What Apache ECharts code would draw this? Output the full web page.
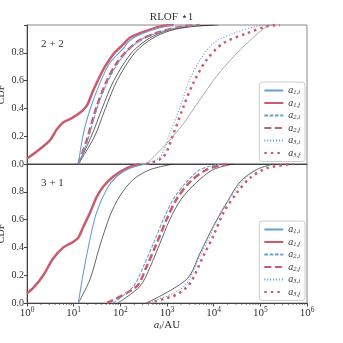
<!doctype html>
<html>
<head>
<meta charset="utf-8">
<title>RLOF star 1</title>
<style>
    html, body { margin: 0; padding: 0; background: #fff; }
    #chartEle { width: 343px; height: 343px; }
</style>
</head>
<body>
<div id="chartEle"></div>
<script src="https://cdn.jsdelivr.net/npm/echarts@6/dist/echarts.min.js"></script>
<script>
// ---- panel 1 : 2+2 ----
var top_a1i_a = [12.6, 16.2, 22.4, 36.3, 60.3, 115, 162, 309, 708, 1380];
var top_a1i_c = [0, 0.22, 0.39, 0.58, 0.73, 0.83, 0.89, 0.94, 0.98, 1.0];
var top_a1f_a = [1, 1.62, 3.09, 4.37, 6.03, 9.12, 13.8, 19.1, 26.3, 36.3, 46.8, 70.8, 115, 162, 309, 708, 1380];
var top_a1f_c = [0.04, 0.09, 0.17, 0.25, 0.30, 0.33, 0.37, 0.42, 0.53, 0.63, 0.70, 0.79, 0.86, 0.91, 0.95, 0.99, 1.0];
var top_a2i_a = [12.6, 19.1, 30.9, 51.3, 83.2, 138, 263, 708, 2239, 5012];
var top_a2i_c = [0, 0.15, 0.39, 0.58, 0.71, 0.81, 0.89, 0.95, 0.99, 1.0];
var top_a2f_a = [12.6, 18.6, 30.2, 50.1, 81.3, 135, 257, 692, 2188, 5012];
var top_a2f_c = [0, 0.16, 0.40, 0.59, 0.72, 0.81, 0.89, 0.95, 0.99, 1.0];
var top_a3i_a = [309, 708, 1148, 1905, 3090, 5129, 10000, 26303, 83176, 158489];
var top_a3i_c = [0, 0.05, 0.22, 0.41, 0.61, 0.75, 0.87, 0.94, 0.99, 1.0];
var top_a3f_a = [363, 832, 1380, 2239, 3631, 7079, 16218, 51286, 138038, 263027];
var top_a3f_c = [0, 0.05, 0.22, 0.41, 0.58, 0.75, 0.87, 0.94, 0.99, 1.0];
var top_ref1_a = [12.6, 24.0, 40.7, 72.4, 174, 398, 1000, 3162, 10000];
var top_ref1_c = [0, 0.2, 0.4, 0.6, 0.8, 0.9, 0.96, 0.99, 1.0];
var top_ref2_a = [12.6, 28.2, 47.9, 85.1, 204, 468, 1175, 3715, 12589];
var top_ref2_c = [0, 0.2, 0.4, 0.6, 0.8, 0.9, 0.96, 0.99, 1.0];
var top_ref3_a = [363, 1000, 2239, 5012, 11482, 26303, 60256, 138038, 199526];
var top_ref3_c = [0, 0.15, 0.29, 0.46, 0.63, 0.77, 0.89, 0.99, 1.0];

// ---- panel 2 : 3+1 ----
var bot_a1i_a = [12.6, 16.2, 22.4, 30.9, 51.3, 83.2, 162, 363];
var bot_a1i_c = [0, 0.22, 0.46, 0.65, 0.82, 0.91, 0.97, 1.0];
var bot_a1f_a = [1, 1.38, 2.24, 3.63, 6.03, 9.77, 12.6, 16.2, 22.4, 30.9, 43.7, 70.8, 138, 263];
var bot_a1f_c = [0.07, 0.11, 0.20, 0.32, 0.40, 0.44, 0.47, 0.55, 0.65, 0.76, 0.84, 0.91, 0.97, 1.0];
var bot_a2i_a = [70.8, 191, 309, 513, 832, 1380, 2630, 5129, 13804];
var bot_a2i_c = [0, 0.12, 0.26, 0.43, 0.60, 0.75, 0.87, 0.96, 1.0];
var bot_a2f_a = [51.3, 224, 363, 603, 977, 1622, 3090, 7079, 19055];
var bot_a2f_c = [0, 0.12, 0.26, 0.43, 0.60, 0.75, 0.87, 0.96, 1.0];
var bot_a3i_a = [363, 1380, 2630, 5129, 8318, 13804, 26303, 51286, 97724, 190546];
var bot_a3i_c = [0, 0.07, 0.14, 0.34, 0.48, 0.65, 0.79, 0.91, 0.97, 1.0];
var bot_a3f_a = [398, 1600, 3090, 6026, 9772, 16218, 30903, 60256, 138038, 512861];
var bot_a3f_c = [0, 0.06, 0.14, 0.34, 0.48, 0.65, 0.79, 0.90, 0.97, 1.0];
var bot_ref1_a = [12.6, 22.4, 36.3, 60.3, 97.7, 191, 437, 1380];
var bot_ref1_c = [0, 0.17, 0.41, 0.63, 0.77, 0.89, 0.96, 1.0];
var bot_ref2_a = [89.1, 263, 437, 708, 1148, 2042, 4365, 9772, 26303];
var bot_ref2_c = [0, 0.12, 0.26, 0.43, 0.60, 0.75, 0.87, 0.96, 1.0];
var bot_ref3_a = [363, 2630, 5129, 9772, 19055, 36308, 83176, 190546];
var bot_ref3_c = [0, 0.17, 0.36, 0.55, 0.72, 0.87, 0.96, 1.0];

var legendNames = ['a1i', 'a1f', 'a2i', 'a2f', 'a3i', 'a3f'];
var legendSubs = {a1i: '1,i', a1f: '1,f', a2i: '2,i', a2f: '2,f', a3i: '3,i', a3f: '3,f'};
var decades = [1, 10, 100, 1000, 10000, 100000, 1000000];

var BLUE = '#6a9fd6';
var RED = '#cc5a6d';
var FONT = 'Liberation Serif';

function pairs(xs, ys) {
    return xs.map(function (x, i) { return [x, ys[i]]; });
}

function line(name, gi, xs, ys, color, width, dash, z) {
    return {
        name: name,
        type: 'line',
        xAxisIndex: gi,
        yAxisIndex: gi,
        data: pairs(xs, ys),
        symbol: 'none',
        smooth: 0.3,
        lineStyle: {color: color, width: width, type: dash, cap: 'butt'},
        itemStyle: {color: color},
        z: z,
        silent: true
    };
}

// minor ticks 2..9 in every decade (bottom panel only)
var minorTicks = [];
for (var d = 0; d < 6; d++) {
    for (var k = 2; k < 10; k++) {
        minorTicks.push([k * decades[d], 0]);
    }
}

function panelSeries(gi, s) {
    return [
        line('ref1', gi, s.r1[0], s.r1[1], s.r1[2], 0.7, 'solid', 1),
        line('ref2', gi, s.r2[0], s.r2[1], s.r2[2], 0.7, 'solid', 1),
        line('ref3', gi, s.r3[0], s.r3[1], s.r3[2], 0.7, 'solid', 1),
        line('a1i', gi, s.a1i[0], s.a1i[1], BLUE, 1.1, 'solid', 3),
        line('a1f', gi, s.a1f[0], s.a1f[1], RED, 2.5, 'solid', 2),
        line('a2i', gi, s.a2i[0], s.a2i[1], BLUE, 1.1, [3.7, 1.6], 3),
        line('a2f', gi, s.a2f[0], s.a2f[1], RED, 2.5, [7, 3.5], 2),
        line('a3i', gi, s.a3i[0], s.a3i[1], BLUE, 1.1, [1.1, 1.8], 3),
        line('a3f', gi, s.a3f[0], s.a3f[1], RED, 2.5, [2.5, 4], 2)
    ];
}

var series = [].concat(
    panelSeries(0, {
        r1: [top_ref1_a, top_ref1_c, '#222'], r2: [top_ref2_a, top_ref2_c, '#222'], r3: [top_ref3_a, top_ref3_c, '#888'],
        a1i: [top_a1i_a, top_a1i_c], a1f: [top_a1f_a, top_a1f_c],
        a2i: [top_a2i_a, top_a2i_c], a2f: [top_a2f_a, top_a2f_c],
        a3i: [top_a3i_a, top_a3i_c], a3f: [top_a3f_a, top_a3f_c]
    }),
    panelSeries(1, {
        r1: [bot_ref1_a, bot_ref1_c, '#222'], r2: [bot_ref2_a, bot_ref2_c, '#222'], r3: [bot_ref3_a, bot_ref3_c, '#222'],
        a1i: [bot_a1i_a, bot_a1i_c], a1f: [bot_a1f_a, bot_a1f_c],
        a2i: [bot_a2i_a, bot_a2i_c], a2f: [bot_a2f_a, bot_a2f_c],
        a3i: [bot_a3i_a, bot_a3i_c], a3f: [bot_a3f_a, bot_a3f_c]
    }),
    [{
        type: 'custom',
        xAxisIndex: 1,
        yAxisIndex: 1,
        data: minorTicks,
        silent: true,
        clip: false,
        renderItem: function (params, api) {
            var p = api.coord([api.value(0), 0]);
            return {
                type: 'line',
                shape: {x1: p[0], y1: p[1], x2: p[0], y2: p[1] + 2},
                style: {stroke: '#444', lineWidth: 0.7}
            };
        }
    }]
);

function legendCfg(top) {
    return {
        data: legendNames,
        right: 38,
        top: top,
        orient: 'vertical',
        itemWidth: 19,
        itemHeight: 8,
        itemGap: 1.5,
        padding: [3, 5, 3, 4],
        borderColor: '#ccc',
        borderWidth: 1,
        borderRadius: 3,
        backgroundColor: '#fff',
        selectedMode: false,
        itemStyle: {opacity: 0},
        formatter: function (n) { return '{a|a}{s|' + legendSubs[n] + '}'; },
        textStyle: {
            color: '#333',
            lineHeight: 10,
            rich: {
                a: {fontFamily: FONT, fontStyle: 'italic', fontSize: 10, color: '#333', lineHeight: 10},
                s: {fontFamily: FONT, fontStyle: 'italic', fontSize: 6.5, color: '#333', lineHeight: 10, padding: [4, 0, 0, 0]}
            }
        }
    };
}

function yAxisCfg(gi) {
    return {
        type: 'value',
        gridIndex: gi,
        min: 0,
        max: 1,
        interval: 0.2,
        name: 'CDF',
        nameLocation: 'middle',
        nameGap: 21,
        nameMoveOverlap: false,
        nameTextStyle: {fontFamily: FONT, fontSize: 10, color: '#333'},
        axisLine: {show: true, lineStyle: {color: '#444', width: 1}},
        axisTick: {show: true, length: 3, lineStyle: {color: '#444'}},
        axisLabel: {
            fontFamily: FONT, fontSize: 10, color: '#333', margin: 3,
            formatter: function (v) { return v > 0.99 ? '' : v.toFixed(1); }
        },
        splitLine: {show: false}
    };
}

var option = {
    animation: false,
    backgroundColor: '#fff',
    title: [
        {text: 'RLOF \u22c61', left: 'center', top: 12, padding: 0,
            textStyle: {fontFamily: FONT, fontSize: 11, fontWeight: 'normal', color: '#333'}},
        {text: '2 + 2', left: 41, top: 39, padding: 0,
            textStyle: {fontFamily: FONT, fontSize: 11, fontWeight: 'normal', color: '#333'}},
        {text: '3 + 1', left: 41, top: 178, padding: 0,
            textStyle: {fontFamily: FONT, fontSize: 11, fontWeight: 'normal', color: '#333'}}
    ],
    legend: [legendCfg(82), legendCfg(221)],
    grid: [
        {left: 27, top: 25, width: 280, height: 139, show: true, borderColor: '#888', borderWidth: 1,
            containLabel: false, outerBoundsMode: 'none'},
        {left: 27, top: 164, width: 280, height: 139, show: true, borderColor: '#888', borderWidth: 1,
            containLabel: false, outerBoundsMode: 'none'}
    ],
    xAxis: [
        {
            type: 'log', logBase: 10, gridIndex: 0, min: 1, max: 1e6,
            axisLine: {show: true, lineStyle: {color: '#444', width: 1}},
            axisTick: {show: false},
            axisLabel: {show: false},
            splitLine: {show: false}
        },
        {
            type: 'log', logBase: 10, gridIndex: 1, min: 1, max: 1e6,
            name: '{i|a}{s|i}{r|/AU}',
            nameLocation: 'middle',
            nameGap: 16,
            nameMoveOverlap: false,
            nameTextStyle: {
                lineHeight: 12,
                rich: {
                    i: {fontFamily: FONT, fontStyle: 'italic', fontSize: 11, color: '#333', lineHeight: 12},
                    s: {fontFamily: FONT, fontStyle: 'italic', fontSize: 7, color: '#333', lineHeight: 12, padding: [5, 0, 0, 0]},
                    r: {fontFamily: FONT, fontSize: 11, color: '#333', lineHeight: 12}
                }
            },
            axisLine: {show: true, lineStyle: {color: '#444', width: 1}},
            axisTick: {show: true, length: 3.5, lineStyle: {color: '#444'}},
            axisLabel: {
                interval: 0,
                margin: 3,
                formatter: function (v) {
                    return '{b|10}{e|' + Math.round(Math.log10(v)) + '}';
                },
                rich: {
                    b: {fontFamily: FONT, fontSize: 11, color: '#333'},
                    e: {fontFamily: FONT, fontSize: 7.5, color: '#333', padding: [0, 0, 7, 0]}
                }
            },
            splitLine: {show: false}
        }
    ],
    yAxis: [yAxisCfg(0), yAxisCfg(1)],
    series: series
};

var myChart = echarts.init(document.getElementById('chartEle'));
myChart.setOption(option);
</script>
</body>
</html>
